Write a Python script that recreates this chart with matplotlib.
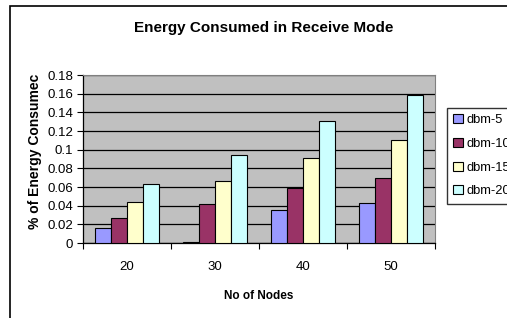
import matplotlib.pyplot as plt
import matplotlib.patches as patches
import numpy as np

plt.rcParams['font.family'] = ['Liberation Sans', 'DejaVu Sans']

nodes = ['20', '30', '40', '50']
series = ['dbm-5', 'dbm-10', 'dbm-15', 'dbm-20']
dbm5 = [0.016, 0.001, 0.035, 0.043]
dbm10 = [0.027, 0.042, 0.059, 0.070]
dbm15 = [0.044, 0.066, 0.091, 0.110]
dbm20 = [0.063, 0.094, 0.131, 0.159]
colors = ['#9999FF', '#993366', '#FFFFCC', '#CCFFFF']

fig = plt.figure(figsize=(5.07, 3.18), dpi=100)
ax = fig.add_axes([83/507, 1-243/318, 352/507, 168/318])

# outer chart frame (runs off the right/bottom edge)
fig.patches.append(patches.Rectangle((10/507, -0.1), 1.2, 1 - 6/318 + 0.1,
                                     transform=fig.transFigure, fill=False,
                                     edgecolor='black', linewidth=1.2))

x = np.arange(len(nodes))
w = 0.182
for i, (vals, name) in enumerate(zip([dbm5, dbm10, dbm15, dbm20], series)):
    ax.bar(x + (i - 1.5) * w, vals, w, color=colors[i], edgecolor='black',
           linewidth=0.8, label=name, zorder=3)

ax.set_facecolor('#C0C0C0')
ax.set_xlim(-0.5, 3.5)
ax.set_ylim(0, 0.18)
ax.set_yticks(np.arange(0, 0.181, 0.02))
ax.set_yticklabels(['0', '0.02', '0.04', '0.06', '0.08', '0.1', '0.12', '0.14', '0.16', '0.18'])
ax.yaxis.grid(True, color='black', linewidth=0.9, zorder=0)
ax.set_axisbelow(True)
ax.set_xticks([-0.5, 0.5, 1.5, 2.5, 3.5])
ax.set_xticklabels([])
ax.set_xticks(x, minor=True)
ax.set_xticklabels(nodes, minor=True)
ax.tick_params(axis='x', which='minor', length=0, pad=13, labelsize=9.5)
ax.tick_params(axis='x', which='major', direction='out', length=4)
ax.tick_params(axis='y', direction='out', length=4, labelsize=9.5, pad=3)
for s in ['top', 'right']:
    ax.spines[s].set_color('#808080')
ax.spines['left'].set_linewidth(0.9)
ax.spines['bottom'].set_linewidth(0.9)

ax.set_xlabel('No of Nodes', fontsize=8.5, fontweight='bold', labelpad=12)
fig.text(35/507, 1-151/318, '% of Energy Consumec', rotation=90, ha='center',
         va='center', fontsize=10, fontweight='bold')
fig.text(264/507, 1-28/318, 'Energy Consumed in Receive Mode', ha='center',
         va='center', fontsize=11, fontweight='bold')

fig.legend(loc='upper left', bbox_to_anchor=(447/507, 1-108/318),
           frameon=True, fancybox=False, edgecolor='black', fontsize=9.3,
           handlelength=0.7, handleheight=0.7, handletextpad=0.3,
           labelspacing=0.9, borderpad=0.5, borderaxespad=0)

fig.savefig('out.png', dpi=100)
